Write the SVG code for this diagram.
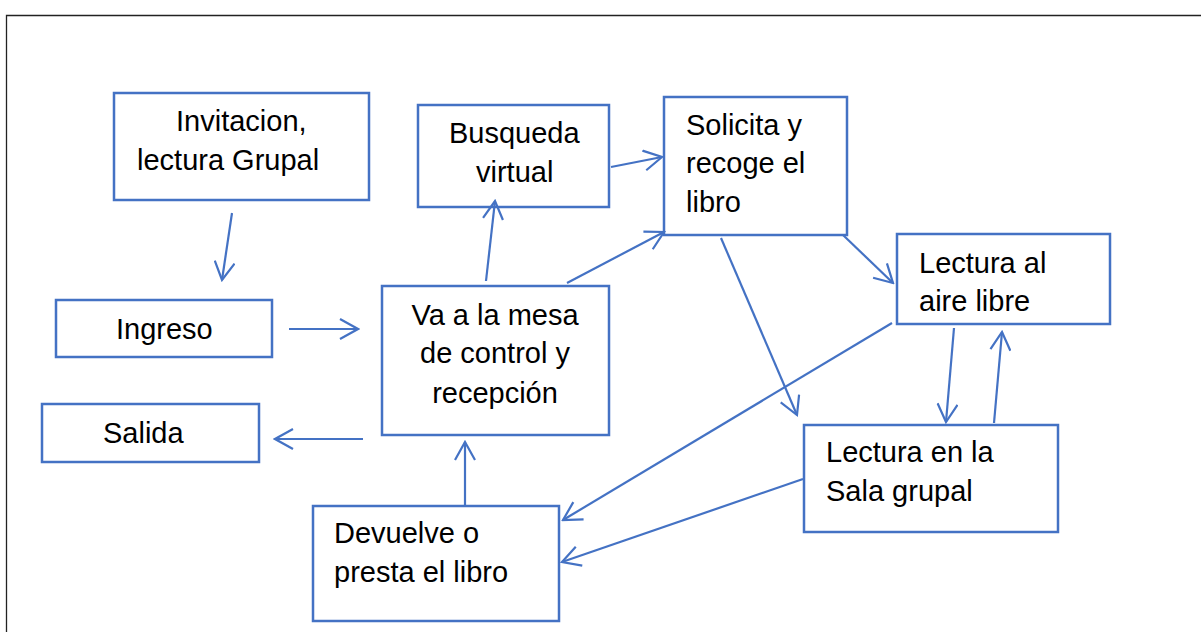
<svg xmlns="http://www.w3.org/2000/svg" width="1201" height="632" viewBox="0 0 1201 632">
<style>
.box{fill:#fff;stroke:#4472C4;stroke-width:2.5}
.t{font-family:"Liberation Sans",Arial,sans-serif;font-size:29px;fill:#000}
.c{text-anchor:middle}
.e{fill:none;stroke:#4472C4;stroke-width:2.2;marker-end:url(#ah)}
</style>
<defs>
<marker id="ah" viewBox="0 0 22 22" refX="20" refY="11" markerWidth="22" markerHeight="22" markerUnits="userSpaceOnUse" orient="auto">
<path d="M2,1 L20,11 L2,21" fill="none" stroke="#4472C4" stroke-width="2.2"/>
</marker>
</defs>
<rect width="1201" height="632" fill="#fff"/>
<path d="M6.5,632 V15.5 H1201" fill="none" stroke="#222" stroke-width="1.3"/>
<g id="n-invitacion"><rect class="box" x="114" y="93" width="255" height="107"/><text class="t" x="176" y="131">Invitacion,</text><text class="t" x="137" y="170">lectura Grupal</text></g>
<g id="n-busqueda"><rect class="box" x="418" y="105" width="191" height="102"/><text class="t" x="449" y="143">Busqueda</text><text class="t" x="476" y="182">virtual</text></g>
<g id="n-solicita"><rect class="box" x="664" y="97" width="183" height="138"/><text class="t" x="686" y="135">Solicita y</text><text class="t" x="686" y="173">recoge el</text><text class="t" x="686" y="212">libro</text></g>
<g id="n-aire"><rect class="box" x="897" y="234" width="213" height="90"/><text class="t" x="919" y="273">Lectura al</text><text class="t" x="919" y="311">aire libre</text></g>
<g id="n-sala"><rect class="box" x="804" y="425" width="254" height="107"/><text class="t" x="826" y="462">Lectura en la</text><text class="t" x="826" y="501">Sala grupal</text></g>
<g id="n-ingreso"><rect class="box" x="56" y="300" width="216" height="57"/><text class="t" x="116" y="339">Ingreso</text></g>
<g id="n-salida"><rect class="box" x="42" y="404" width="217" height="58"/><text class="t" x="103" y="443">Salida</text></g>
<g id="n-mesa"><rect class="box" x="382" y="286" width="227" height="149"/><text class="t c" x="495" y="325">Va a la mesa</text><text class="t c" x="495" y="363">de control y</text><text class="t c" x="495" y="403">recepción</text></g>
<g id="n-devuelve"><rect class="box" x="313" y="506" width="246" height="115"/><text class="t" x="334" y="543">Devuelve o</text><text class="t" x="334" y="582">presta el libro</text></g>
<g id="connectors">
<line class="e" x1="232" y1="213" x2="222" y2="280"/>
<line class="e" x1="289" y1="329" x2="358" y2="329"/>
<line class="e" x1="363" y1="439" x2="275" y2="439"/>
<line class="e" x1="465" y1="505" x2="465" y2="442"/>
<line class="e" x1="486" y1="281" x2="495" y2="201"/>
<line class="e" x1="567" y1="283" x2="664" y2="232"/>
<line class="e" x1="611" y1="167" x2="662" y2="157"/>
<line class="e" x1="843" y1="235" x2="893" y2="283"/>
<line class="e" x1="721" y1="238" x2="797" y2="415"/>
<line class="e" x1="892" y1="323" x2="563" y2="520"/>
<line class="e" x1="803" y1="479" x2="562" y2="562"/>
<line class="e" x1="954" y1="328" x2="946" y2="422"/>
<line class="e" x1="994" y1="423" x2="1002" y2="332"/>
</g>
</svg>
